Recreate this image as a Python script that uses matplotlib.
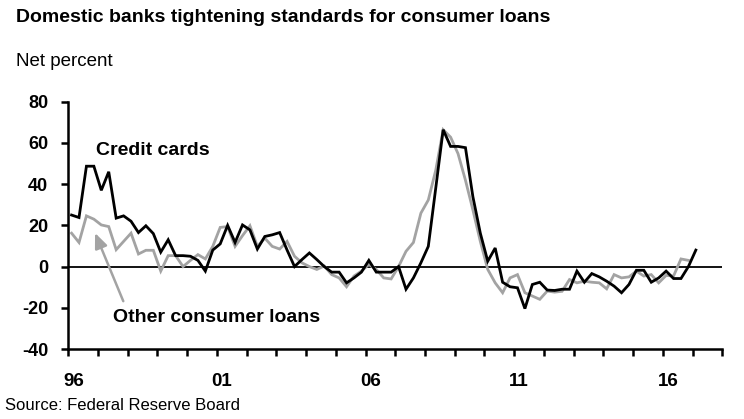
import numpy as np
import matplotlib
matplotlib.use("Agg")
import matplotlib.pyplot as plt
from matplotlib import font_manager as fm
from matplotlib.transforms import ScaledTranslation

# ---- data (net percent, quarterly from 1996Q1) ----
credit_cards = [25, 23.8, 48.7, 48.7, 37, 46, 23.5, 24.6, 22, 16.5,
                19.8, 16, 7, 13, 5.3, 5.3, 5, 3, -2.2, 8,
                11, 20, 11.7, 20.2, 17.8, 8.5, 14.6, 15.4, 16.5, 8,
                0, 3.4, 6.6, 3.4, 0, -2.7, -2.7, -7.9, -5.5, -2.7,
                3, -2.7, -2.7, -2.7, 0, -11, -5.5, 1.8, 9.8, 38,
                66.4, 58.3, 58.3, 57.7, 33.9, 16.2, 2.6, 9, -7.6, -9.8,
                -10.3, -20.4, -8.7, -7.6, -11.4, -11.6, -11, -11, -2.2, -7.6,
                -3.4, -5, -7.1, -9.5, -12.7, -8.7, -1.8, -1.8, -7.6, -5.5,
                -2.2, -5.8, -5.8, 0, 8]
other_consumer = [16.2, 11.7, 24.6, 23, 20.2, 19.4, 8.2, 12.2, 16.2, 6.1,
                  7.9, 7.9, -2.2, 5.3, 5.3, 0, 3, 5.8, 3.7, 9.8,
                  19, 19.4, 9.8, 15, 19.8, 9.8, 13.8, 9.8, 8.5, 12.2,
                  5, 1.8, 0, -1.4, 0.3, -3.9, -5.5, -9.8, -4.6, -2.2,
                  1, -1.4, -5.5, -6, 0, 7.4, 11.7, 25.9, 32.3, 46.7,
                  66.4, 62.8, 54.8, 41.9, 27.5, 12.2, -1.4, -7.9, -12.7, -5.5,
                  -3.9, -12.7, -14.3, -15.9, -11.9, -12.4, -12, -6.3, -7.9, -7.1,
                  -7.6, -7.9, -10.8, -3.9, -5.5, -5, -2.2, -4.6, -3.9, -7.9,
                  -4.3, -4.6, 3.7, 3]
start_year = 1996
year_ticks = list(range(1996, 2019))
year_labels = {1996: "96", 2001: "01", 2006: "06", 2011: "11", 2016: "16"}
y_ticks = [-40, -20, 0, 20, 40, 60, 80]

names = {f.name for f in fm.fontManager.ttflist}
base = "Liberation Sans" if "Liberation Sans" in names else "DejaVu Sans"
plt.rcParams["font.family"] = [base, "DejaVu Sans"]

W, H = 744, 419
fig = plt.figure(figsize=(W / 100, H / 100), dpi=100)
left, right, top, bottom = 68.3, 722.3, 101.7, 349.0
ax = fig.add_axes([left / W, 1 - bottom / H, (right - left) / W, (bottom - top) / H])

x_cc = start_year + 0.11 + 0.25 * np.arange(len(credit_cards))
x_ot = start_year + 0.11 + 0.25 * np.arange(len(other_consumer))

ax.axhline(0, color="black", lw=1.3, zorder=1)
ax.plot(x_ot, other_consumer, color="#a3a3a3", lw=2.0, zorder=2, solid_joinstyle="miter")
ax.plot(x_cc, credit_cards, color="black", lw=2.0, zorder=3, solid_joinstyle="miter")

ax.set_xlim(1996, 2018)
ax.set_ylim(-40, 80)
for s in ["top", "right"]:
    ax.spines[s].set_visible(False)
for s in ["left", "bottom"]:
    ax.spines[s].set_linewidth(1.8)

ax.set_yticks(y_ticks)
ax.set_yticklabels([str(v) for v in y_ticks], fontsize=13, fontweight="bold")
ax.tick_params(axis="y", length=5, width=1.8, pad=9.5, direction="out")
ax.set_xticks(year_ticks)
ax.set_xticklabels([year_labels.get(y, "") for y in year_ticks], fontsize=13.5, fontweight="bold")
ax.tick_params(axis="x", length=5, width=1.8, pad=12, direction="out")
for lab in ax.get_xticklabels():
    lab.set_transform(lab.get_transform() + ScaledTranslation(5 / 100, 0, fig.dpi_scale_trans))

ax.text(1996.93, 56.5, "Credit cards", fontsize=14, fontweight="bold", va="center", ha="left")
ax.text(1997.52, -24.6, "Other consumer loans", fontsize=14, fontweight="bold", va="center", ha="left")
ax.annotate("", xy=(1996.9, 16.3), xytext=(1997.85, -16.8),
            arrowprops=dict(arrowstyle="-|>,head_length=0.9,head_width=0.38", color="#a3a3a3", lw=1.8,
                            shrinkA=0, shrinkB=0))

fig.text(16 / W, 1 - 17 / H, "Domestic banks tightening standards for consumer loans",
         fontsize=14, fontweight="bold", va="center", ha="left")
fig.text(16 / W, 1 - 62 / H, "Net percent", fontsize=13.5, va="center", ha="left")
fig.text(5 / W, 1 - 405 / H, "Source: Federal Reserve Board", fontsize=12, va="center", ha="left")

fig.savefig("out.png", dpi=100)
